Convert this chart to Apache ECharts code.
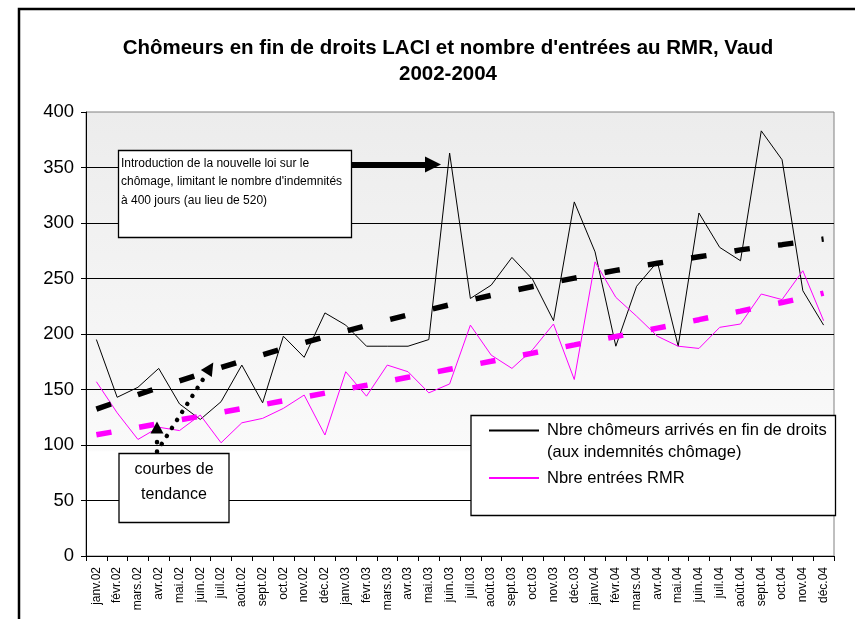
<!DOCTYPE html>
<html><head><meta charset="utf-8">
<script src="https://cdn.jsdelivr.net/npm/echarts@6/dist/echarts.min.js"></script>
<style>html,body{margin:0;padding:0;background:#fff}#c{width:855px;height:619px}</style>
</head><body><div id="c"></div>
<script>
// ---------- data ----------
const months = ['janv.02','févr.02','mars.02','avr.02','mai.02','juin.02','juil.02','août.02','sept.02','oct.02','nov.02','déc.02',
  'janv.03','févr.03','mars.03','avr.03','mai.03','juin.03','juil.03','août.03','sept.03','oct.03','nov.03','déc.03',
  'janv.04','févr.04','mars.04','avr.04','mai.04','juin.04','juil.04','août.04','sept.04','oct.04','nov.04','déc.04'];
const finDeDroits = [195,143,152,169,137,123,139,172,138,198,179,219,
  208,189,189,189,195,363,232,244,269,249,212,319,
  274,189,243,265,189,309,278,266,383,357,239,208];
const entreesRMR = [157,129,105,116,113,127,102,120,124,133,145,109,
  166,144,172,166,147,155,208,181,169,186,209,159,
  265,233,216,198,189,187,206,209,236,231,257,212];
const tendanceFinDeDroits = [132.3,138.9,145.3,151.7,157.8,163.9,169.8,175.6,181.3,186.8,192.2,197.5,
  202.6,207.6,212.5,217.2,221.8,226.3,230.6,234.8,238.9,242.8,246.7,250.3,
  253.9,257.3,260.6,263.7,266.8,269.6,272.4,275.8,278.3,280.5,283.0,285.5];
const tendanceRMR = [109.2,112.5,115.8,119.2,122.6,125.9,129.4,132.8,136.3,139.8,143.2,146.7,
  150.3,153.8,157.4,161.0,164.5,168.2,171.8,175.4,179.1,182.8,186.5,190.2,
  194.0,197.7,201.5,205.3,209.1,212.9,216.8,220.6,224.5,228.4,232.4,236.8];
const yMin = 0, yMax = 400, yStep = 50;
const titleText = "Chômeurs en fin de droits LACI et nombre d'entrées au RMR, Vaud\n2002-2004";
const nameBlack = 'Nbre chômeurs arrivés en fin de droits (aux indemnités chômage)';
const legendBlackLines = ['Nbre chômeurs arrivés en fin de droits', '(aux indemnités chômage)'];
const nameMagenta = 'Nbre entrées RMR';
const noteLoi = "Introduction de la nouvelle loi sur le\nchômage, limitant le nombre d'indemnités\nà 400 jours (au lieu de 520)";
const noteTendance = 'courbes de\ntendance';

// ---------- helpers ----------
const FONT = '"Liberation Sans", Arial, sans-serif';
function head(x1, y1, x2, y2, len, half) {
  const dx = x2 - x1, dy = y2 - y1, L = Math.hypot(dx, dy), ux = dx / L, uy = dy / L;
  const bx = x2 - ux * len, by = y2 - uy * len;
  return [[x2, y2], [bx - uy * half, by + ux * half], [bx + uy * half, by - ux * half]];
}
const dotStyle = { stroke: '#000', lineWidth: 4.5, lineCap: 'round', lineDash: [0.1, 9.4] };
const legendCommon = {
  left: 488, padding: 0, orient: 'vertical', itemWidth: 50, itemHeight: 14, selectedMode: false,
  itemStyle: { color: 'rgba(0,0,0,0)', borderWidth: 0, opacity: 0 },
  textStyle: { fontFamily: FONT, fontSize: 16.5, color: '#000', lineHeight: 22, padding: [0, 0, 0, 3] }
};

const chart = echarts.init(document.getElementById('c'), null, { renderer: 'canvas' });
chart.setOption({
  animation: false,
  backgroundColor: '#fff',
  textStyle: { fontFamily: FONT },
  title: {
    text: titleText, left: 448, top: 35, padding: 0, textAlign: 'center',
    textStyle: { fontFamily: FONT, fontSize: 20.5, fontWeight: 'bold', color: '#000', lineHeight: 26 }
  },
  grid: {
    left: 86, top: 112, right: 21, bottom: 63, show: true, borderColor: '#808080', borderWidth: 1,
    backgroundColor: { type: 'linear', x: 0, y: 0, x2: 0, y2: 1, colorStops: [
      { offset: 0, color: '#ececec' }, { offset: 0.76, color: '#fafafa' },
      { offset: 0.765, color: '#ffffff' }, { offset: 1, color: '#ffffff' }] }
  },
  legend: [
    Object.assign({}, legendCommon, { data: [nameBlack], top: 397.5,
      formatter: () => ' \n' + legendBlackLines.join('\n') }),
    Object.assign({}, legendCommon, { data: [nameMagenta], top: 467 })
  ],
  xAxis: {
    type: 'category', data: months, boundaryGap: true, z: 1,
    axisLine: { lineStyle: { color: '#000', width: 1 } },
    axisTick: { show: true, length: 5, interval: 0, lineStyle: { color: '#000' } },
    axisLabel: { interval: 0, rotate: 90, margin: 11, fontSize: 12, color: '#000', fontFamily: FONT },
    splitLine: { show: false }
  },
  yAxis: {
    type: 'value', min: yMin, max: yMax, interval: yStep, z: 1,
    axisLine: { show: true, lineStyle: { color: '#000', width: 1 } },
    axisTick: { show: true, length: 5, lineStyle: { color: '#000' } },
    axisLabel: { fontSize: 18.5, color: '#000', margin: 12, fontFamily: FONT },
    splitLine: { show: true, showMaxLine: false, lineStyle: { color: '#000', width: 1 } }
  },
  series: [
    { name: nameBlack, type: 'line', data: finDeDroits, symbol: 'none', z: 2,
      lineStyle: { color: '#000', width: 1 }, itemStyle: { color: '#000' } },
    { name: nameMagenta, type: 'line', data: entreesRMR, symbol: 'none', z: 2,
      lineStyle: { color: '#ff00ff', width: 1 }, itemStyle: { color: '#ff00ff' } },
    { name: 'Tendance fin de droits', type: 'line', data: tendanceFinDeDroits, symbol: 'none', silent: true, z: 3,
      lineStyle: { color: '#000', width: 5.5, type: [15.5, 28.4], cap: 'butt' } },
    { name: 'Tendance RMR', type: 'line', data: tendanceRMR, symbol: 'none', silent: true, z: 3,
      lineStyle: { color: '#ff00ff', width: 5.5, type: [15.3, 28.1], cap: 'butt' } }
  ],
  graphic: { elements: [
    // outer frame
    { type: 'rect', silent: true, z: 50, shape: { x: 19, y: 9, width: 900, height: 700 },
      style: { fill: 'none', stroke: '#000', lineWidth: 2.5 } },
    // legend box
    { type: 'rect', silent: true, z: 3, shape: { x: 471, y: 415.5, width: 364.5, height: 100 },
      style: { fill: '#fff', stroke: '#000', lineWidth: 1.3 } },
    // note loi
    { type: 'rect', silent: true, z: 20, shape: { x: 118.5, y: 150.5, width: 233, height: 87 },
      style: { fill: '#fff', stroke: '#000', lineWidth: 1.3 } },
    { type: 'text', silent: true, z: 21, x: 121, y: 154,
      style: { text: noteLoi, font: '12px ' + FONT, fill: '#000', lineHeight: 18.7, align: 'left', verticalAlign: 'top' } },
    { type: 'line', silent: true, z: 20, shape: { x1: 352, y1: 164.5, x2: 426, y2: 164.5 },
      style: { stroke: '#000', lineWidth: 5 } },
    { type: 'polygon', silent: true, z: 20, shape: { points: head(352, 164.5, 441, 164.5, 16, 8) },
      style: { fill: '#000' } },
    // note tendance
    { type: 'rect', silent: true, z: 20, shape: { x: 119, y: 453.5, width: 110, height: 69 },
      style: { fill: '#fff', stroke: '#000', lineWidth: 1.3 } },
    { type: 'text', silent: true, z: 21, x: 174, y: 482,
      style: { text: noteTendance, font: '16px ' + FONT, fill: '#000', lineHeight: 25.7, align: 'center', verticalAlign: 'middle' } },
    { type: 'line', silent: true, z: 20, shape: { x1: 157, y1: 451.7, x2: 157, y2: 436 }, style: dotStyle },
    { type: 'polygon', silent: true, z: 20, shape: { points: head(157, 451.7, 157, 421.5, 12, 6.5) }, style: { fill: '#000' } },
    { type: 'line', silent: true, z: 20, shape: { x1: 161.7, y1: 444, x2: 204.5, y2: 377 }, style: dotStyle },
    { type: 'polygon', silent: true, z: 20, shape: { points: head(161.7, 444, 213.3, 362.5, 13, 6.5) }, style: { fill: '#000' } }
  ] }
});
</script>
</body></html>
